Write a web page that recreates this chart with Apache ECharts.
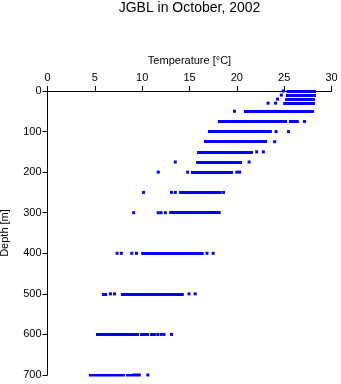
<!DOCTYPE html>
<html><head><meta charset="utf-8">
<script src="https://cdn.jsdelivr.net/npm/echarts@6/dist/echarts.min.js"></script>
<style>html,body{margin:0;padding:0;background:#fff}#c{width:341px;height:384px}</style>
</head><body><div id="c"></div>
<script>
// Depth levels [m]
const depths = [0,10,20,30,50,75,100,125,150,175,200,250,300,400,500,600,700];
// Dense runs of observations (temperature ranges, °C) at each depth
const runs = [
  [[25.25,28.35]],
  [[25.18,28.35]],
  [[25.1,28.25]],
  [[24.9,28.25]],
  [[20.75,28.15]],
  [[18.0,25.3],[25.5,26.55]],
  [[16.95,23.7]],
  [[16.53,23.2]],
  [[15.8,21.7]],
  [[15.7,20.55]],
  [[15.15,19.6]],
  [[13.9,18.4]],
  [[12.85,18.3]],
  [[9.9,16.5]],
  [[5.75,6.3],[7.75,14.4]],
  [[5.12,9.66],[9.77,10.72],[10.83,11.46]],
  [[4.38,8.18],[8.3,8.93]]
];
// Isolated observations (°C) at each depth
const points = [
  [24.9],
  [24.7],
  [24.3],
  [23.3,24.1],
  [19.75],
  [27.15],
  [24.15,25.45],
  [24.0],
  [22.1,22.8],
  [13.5,21.3],
  [11.7,14.8,20.0,20.3],
  [10.15,13.1,13.5,18.6],
  [9.1,11.7,12.0,12.45],
  [7.35,7.8,8.9,9.4,16.85,17.5],
  [6.65,7.08,14.95,15.6],
  [11.65,12.0,12.3,13.1],
  [9.1,9.4,9.7,10.6]
];
const xTicks = [0,5,10,15,20,25,30];
const yTicks = [0,100,200,300,400,500,600,700];

const lineData = [];
const pointData = [];
depths.forEach((d,i)=>{
  runs[i].forEach(r=>lineData.push({coords:[[r[0],d],[r[1],d]]}));
  points[i].forEach(t=>pointData.push([t,d]));
});

const font = 'Liberation Sans, Arial, Helvetica, sans-serif';
const chart = echarts.init(document.getElementById('c'), null, {renderer:'canvas'});
chart.setOption({
  animation:false,
  backgroundColor:'#fff',
  title:{text:'JGBL in October, 2002',left:189.5,textAlign:'center',top:1,padding:0,
    textStyle:{fontFamily:font,fontSize:14,fontWeight:'normal',color:'#000'}},
  grid:{left:47.5,right:9.5,top:91,bottom:9,containLabel:false,outerBoundsMode:'none'},
  xAxis:{type:'value',position:'top',min:xTicks[0],max:xTicks[xTicks.length-1],interval:5,
    name:'Temperature [°C]',nameLocation:'middle',nameGap:25,
    nameTextStyle:{fontFamily:font,fontSize:11,color:'#000'},
    axisLine:{show:true,onZero:false,lineStyle:{color:'#000',width:1}},
    axisTick:{show:true,length:5,lineStyle:{color:'#000'}},
    axisLabel:{fontFamily:font,fontSize:11,color:'#000',margin:8},
    splitLine:{show:false}},
  yAxis:{type:'value',inverse:true,min:yTicks[0],max:yTicks[yTicks.length-1],interval:100,
    name:'Depth [m]',nameLocation:'middle',nameGap:37,nameRotate:90,
    nameTextStyle:{fontFamily:font,fontSize:11,color:'#000'},
    axisLine:{show:true,onZero:false,lineStyle:{color:'#000',width:1}},
    axisTick:{show:true,length:5,lineStyle:{color:'#000'}},
    axisLabel:{fontFamily:font,fontSize:11,color:'#000',margin:6},
    splitLine:{show:false}},
  series:[
    {type:'lines',coordinateSystem:'cartesian2d',data:lineData,
      lineStyle:{color:'#0000ff',width:3,opacity:1,curveness:0},silent:true},
    {type:'scatter',data:pointData,symbol:'rect',symbolSize:3,
      itemStyle:{color:'#0000ff',opacity:1},silent:true}
  ]
});
</script></body></html>
